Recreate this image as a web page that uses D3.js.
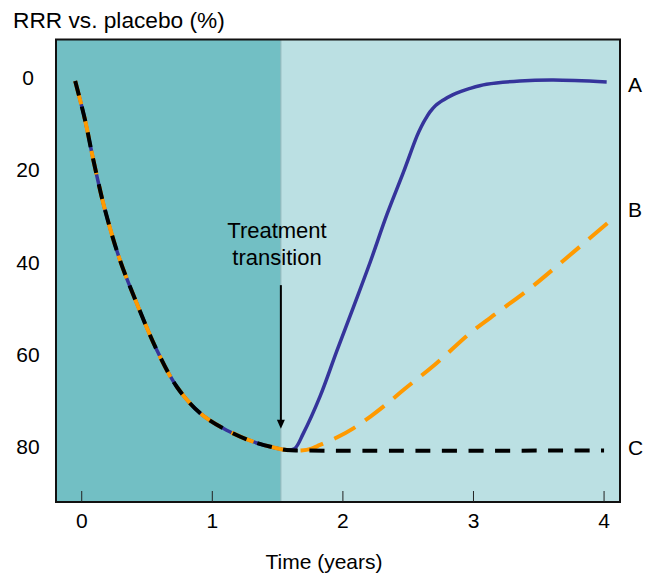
<!DOCTYPE html>
<html><head><meta charset="utf-8">
<script src="https://cdn.jsdelivr.net/npm/d3@7"></script>
<style>
body{margin:0;background:#fff}
text{font-family:"Liberation Sans",Arial,Helvetica,sans-serif;fill:#000}
</style>
</head><body>
<svg id="chart" width="654" height="575"></svg>
<script>
// ---- data ----
const xTicks = [0, 1, 2, 3, 4];
const yTicks = [0, 20, 40, 60, 80];
const transitionTime = 1.525;
// shared descent (years, RRR %)
const descent = [[-0.05,0],[0.025,8.4],[0.089,17.1],[0.178,27.9],[0.293,38.8],[0.421,48.1],[0.574,58.2],[0.728,66.2],[0.906,71.9],[1.11,75.6],[1.312,78.1],[1.493,79.5],[1.57,79.9]];
const tailA = [[1.63,79.6],[1.697,76.3],[1.825,68.3],[1.953,58.5],[2.08,49.0],[2.208,39.3],[2.336,29.0],[2.463,19.8],[2.566,12.0],[2.6,9.9],[2.635,8.1],[2.667,6.7],[2.71,5.3],[2.77,4.1],[2.84,3.0],[2.9,2.3],[2.973,1.6],[3.1,0.7],[3.355,0.0],[3.612,-0.2],[4.02,0.2]];
const tailB = [[1.68,80],[1.76,79.6],[1.825,78.8],[1.953,77.2],[2.08,75.2],[2.208,72.7],[2.336,69.9],[2.463,66.9],[2.717,61.1],[2.973,54.6],[3.2,49.8],[3.433,44.9],[3.663,39.5],[4.05,30.2]];
const tailC = [[1.68,80],[4.0,80]];
const seriesNames = ["A", "B", "C"];
const arrowFrom = 44.2, arrowTo = 75.3;

// ---- layout ----
const svg = d3.select("#chart");
const x = d3.scaleLinear().domain([-0.197, 4.122]).range([56, 620]);
const y = d3.scaleLinear().domain([-8.98, 91.15]).range([39.5, 502]);
const [x0, x1] = x.range(), [y0, y1] = y.range();

// backgrounds
svg.append("rect").attr("x", x0).attr("y", y0)
  .attr("width", x(transitionTime) - x0).attr("height", y1 - y0).attr("fill", "#72bfc4");
svg.append("rect").attr("x", x(transitionTime)).attr("y", y0)
  .attr("width", x1 - x(transitionTime)).attr("height", y1 - y0).attr("fill", "#bbe0e3");
svg.append("line").attr("x1", x(transitionTime)).attr("x2", x(transitionTime))
  .attr("y1", y0).attr("y2", y1).attr("stroke", "#8fb5b8").attr("stroke-width", 1);

// lines
const line = d3.line().x(d => x(d[0])).y(d => y(d[1])).curve(d3.curveCatmullRom.alpha(0.5));
svg.append("path").datum(descent.concat(tailA)).attr("d", line)
  .attr("fill", "none").attr("stroke", "#35349b").attr("stroke-width", 3.5);
svg.append("path").datum(descent.concat(tailB)).attr("d", line)
  .attr("fill", "none").attr("stroke", "#ff9a00").attr("stroke-width", 4)
  .attr("stroke-dasharray", "24,12");
svg.append("path").datum(descent.concat(tailC)).attr("d", line)
  .attr("fill", "none").attr("stroke", "#000").attr("stroke-width", 4)
  .attr("stroke-dasharray", "15,11.5");

// frame
svg.append("rect").attr("x", x0).attr("y", y0).attr("width", x1 - x0).attr("height", y1 - y0)
  .attr("fill", "none").attr("stroke", "#111").attr("stroke-width", 2);

// x ticks (inside) and labels
const xAxis = svg.append("g");
xTicks.forEach(t => {
  xAxis.append("line").attr("x1", x(t)).attr("x2", x(t)).attr("y1", y1).attr("y2", y1 - 11)
    .attr("stroke", "#222").attr("stroke-width", 1);
  xAxis.append("text").attr("x", x(t)).attr("y", y1 + 26).attr("text-anchor", "middle")
    .attr("font-size", 21).text(t);
});
svg.append("text").attr("x", 324).attr("y", 569).attr("text-anchor", "middle")
  .attr("font-size", 21).text("Time (years)");

// y labels
yTicks.forEach(t => {
  svg.append("text").attr("x", 28).attr("y", y(t) + 4).attr("text-anchor", "middle")
    .attr("font-size", 21).text(t);
});
svg.append("text").attr("x", 13).attr("y", 27.7).attr("font-size", 22.7).text("RRR vs. placebo (%)");

// series labels
const ends = [tailA[tailA.length-1][1], tailB[tailB.length-1][1], tailC[tailC.length-1][1]];
const labelOffsets = [10, -3, 5];
seriesNames.forEach((n, i) => {
  svg.append("text").attr("x", x1 + 8).attr("y", y(ends[i]) + labelOffsets[i])
    .attr("font-size", 21).text(n);
});

// annotation
svg.append("text").attr("x", 277).attr("y", 238).attr("text-anchor", "middle")
  .attr("font-size", 22).text("Treatment");
svg.append("text").attr("x", 277).attr("y", 265).attr("text-anchor", "middle")
  .attr("font-size", 22).text("transition");
const ax = x(transitionTime);
svg.append("line").attr("x1", ax).attr("x2", ax).attr("y1", y(arrowFrom)).attr("y2", y(arrowTo) - 8)
  .attr("stroke", "#000").attr("stroke-width", 2);
svg.append("path")
  .attr("d", `M${ax-4},${y(arrowTo)-9} L${ax+4},${y(arrowTo)-9} L${ax},${y(arrowTo)} Z`)
  .attr("fill", "#000");
</script>
</body></html>
